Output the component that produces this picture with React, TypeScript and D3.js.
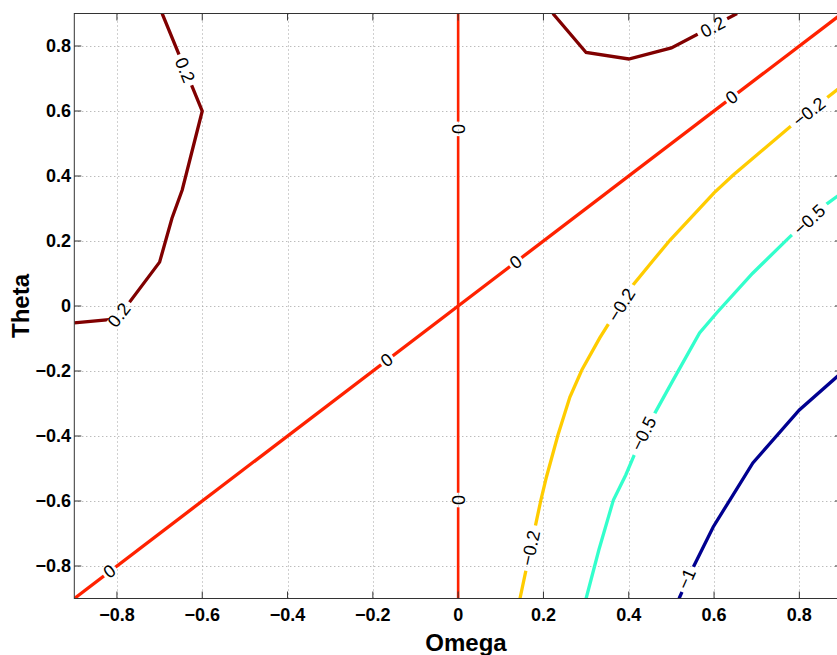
import React from "react";
import * as d3 from "d3";

const W = 837;
const H = 655;

const xTicks = [-0.8, -0.6, -0.4, -0.2, 0, 0.2, 0.4, 0.6, 0.8];
const yTicks = [-0.8, -0.6, -0.4, -0.2, 0, 0.2, 0.4, 0.6, 0.8];
const tickText = ["\u22120.8", "\u22120.6", "\u22120.4", "\u22120.2", "0", "0.2", "0.4", "0.6", "0.8"];

// contour levels and colours (jet)
const levels = [-1, -0.5, -0.2, 0, 0.2];
const levelColors = ["#000090", "#33ffcc", "#ffcc00", "#ff2200", "#800000"];

// contour paths [omega, theta]
const cNeg1: [number, number][] = [
  [0.518, -0.9], [0.548, -0.812], [0.598, -0.68], [0.637, -0.597], [0.691, -0.483],
  [0.8, -0.32], [0.888, -0.218], [0.9, -0.205],
];
const cNeg05: [number, number][] = [
  [0.3, -0.9], [0.33, -0.75], [0.364, -0.597], [0.393, -0.52], [0.415, -0.452],
  [0.459, -0.335], [0.504, -0.228], [0.566, -0.083], [0.607, -0.02], [0.69, 0.1],
  [0.777, 0.212], [0.855, 0.305], [0.9, 0.348],
];
const cNeg02: [number, number][] = [
  [0.145, -0.9], [0.17, -0.745], [0.194, -0.597], [0.207, -0.526], [0.234, -0.397],
  [0.262, -0.28], [0.29, -0.197], [0.332, -0.098], [0.41, 0.065], [0.457, 0.14],
  [0.497, 0.203], [0.6, 0.348], [0.645, 0.403], [0.777, 0.55], [0.864, 0.64], [0.9, 0.677],
];
const cZeroDiag: [number, number][] = [[-0.9, -0.9], [0.9, 0.9]];
const cZeroVert: [number, number][] = [[0, -0.9], [0, 0.9]];
const cPos02Left: [number, number][] = [
  [-0.9, -0.052], [-0.8, -0.04], [-0.7, 0.135], [-0.671, 0.27], [-0.647, 0.357],
  [-0.629, 0.45], [-0.6, 0.6], [-0.694, 0.9],
];
const cPos02Right: [number, number][] = [
  [0.222, 0.9], [0.3, 0.78], [0.4, 0.76], [0.5, 0.794], [0.654, 0.9],
];

const contours: { level: number; pts: [number, number][] }[] = [
  { level: 0.2, pts: cPos02Left },
  { level: 0.2, pts: cPos02Right },
  { level: 0, pts: cZeroDiag },
  { level: 0, pts: cZeroVert },
  { level: -0.2, pts: cNeg02 },
  { level: -0.5, pts: cNeg05 },
  { level: -1, pts: cNeg1 },
];

// labels: text, omega, theta, contour index
const labelText = ["0.2", "0.2", "0.2", "0", "0", "0", "0", "0", "0", "\u22120.2", "\u22120.2", "\u22120.2", "\u22120.5", "\u22120.5", "\u22121"];
const labelOmega = [-0.641, -0.795, 0.597, -0.817, -0.167, 0.135, 0.642, 0, 0, 0.17, 0.383, 0.823, 0.435, 0.824, 0.536];
const labelTheta = [0.726, -0.028, 0.858, -0.817, -0.167, 0.135, 0.642, 0.545, -0.597, -0.745, 0.003, 0.597, -0.393, 0.265, -0.84];
const labelContour = [0, 0, 1, 2, 2, 2, 2, 3, 3, 4, 4, 4, 5, 5, 6];

const x = d3.scaleLinear().domain([-0.9, 0.9]).range([74.3, 842]);
const y = d3.scaleLinear().domain([-0.9, 0.9]).range([598.5, 13.5]);

const LABEL_FS = 18;
const charW = (s: string) => {
  let w = 0;
  for (const c of s) w += c === "." ? 0.278 : c === "\u2212" ? 0.584 : 0.556;
  return w * LABEL_FS;
};

function labelAngle(pts: [number, number][], lx: number, ly: number) {
  let best = Infinity;
  let ang = 0;
  for (let i = 0; i < pts.length - 1; i++) {
    const ax = x(pts[i][0]), ay = y(pts[i][1]);
    const bx = x(pts[i + 1][0]), by = y(pts[i + 1][1]);
    const dx = bx - ax, dy = by - ay;
    const L2 = dx * dx + dy * dy;
    let t = ((lx - ax) * dx + (ly - ay) * dy) / L2;
    t = Math.max(0, Math.min(1, t));
    const px = ax + t * dx, py = ay + t * dy;
    const d = (px - lx) ** 2 + (py - ly) ** 2;
    if (d < best) {
      best = d;
      ang = (Math.atan2(dy, dx) * 180) / Math.PI;
    }
  }
  if (ang > 90) ang -= 180;
  if (ang <= -90) ang += 180;
  return ang;
}

export default function App() {
  const line = d3.line<[number, number]>().x((d) => x(d[0])).y((d) => y(d[1]));
  const color = d3.scaleOrdinal<number, string>().domain(levels).range(levelColors);
  const [x0, x1] = x.range();
  const yTop = y(0.9), yBot = y(-0.9);

  const labels = labelText.map((t, i) => {
    const lx = x(labelOmega[i]);
    const ly = y(labelTheta[i]);
    const a = labelAngle(contours[labelContour[i]].pts, lx, ly);
    return { t, lx, ly, a, gap: charW(t) * 1.25 + 2 };
  });

  const font = "'Liberation Sans', Arial, Helvetica, sans-serif";

  return (
    <svg width={W} height={H} style={{ position: "absolute", left: 0, top: 0, background: "#fff" }}>
      <defs>
        <clipPath id="plotclip">
          <rect x={x0} y={yTop} width={x1 - x0} height={yBot - yTop} />
        </clipPath>
        <mask id="gapmask" maskUnits="userSpaceOnUse" x={0} y={0} width={W} height={H}>
          <rect x={0} y={0} width={W} height={H} fill="#fff" />
          {labels.map((l, i) => (
            <rect key={i} x={-l.gap / 2} y={-6} width={l.gap} height={12} fill="#000"
              transform={`translate(${l.lx},${l.ly}) rotate(${l.a})`} />
          ))}
        </mask>
      </defs>
      <rect x={0} y={0} width={W} height={H} fill="#fff" />
      {/* grid */}
      <g stroke="#a0a0a0" strokeWidth={1} strokeDasharray="1,3">
        {xTicks.map((t, i) => (
          <line key={"gx" + i} x1={Math.round(x(t)) + 0.5} x2={Math.round(x(t)) + 0.5} y1={yTop} y2={yBot} />
        ))}
        {yTicks.map((t, i) => (
          <line key={"gy" + i} x1={x0} x2={x1} y1={Math.round(y(t)) + 0.5} y2={Math.round(y(t)) + 0.5} />
        ))}
      </g>
      {/* contours */}
      <g clipPath="url(#plotclip)">
        <g mask="url(#gapmask)" fill="none" strokeLinejoin="miter">
          {contours.map((c, i) => (
            <path key={i} d={line(c.pts) || ""} stroke={color(c.level)} strokeWidth={c.pts === cZeroVert ? 2.6 : 3.3} />
          ))}
        </g>
        {labels.map((l, i) => (
          <text key={i} transform={`translate(${l.lx},${l.ly}) rotate(${l.a})`} textAnchor="middle"
            dominantBaseline="central" fontFamily={font} fontSize={LABEL_FS} fill="#000">
            {l.t}
          </text>
        ))}
      </g>
      {/* axes box */}
      <g stroke="#333" strokeWidth={1} fill="none">
        <rect x={x0} y={yTop} width={x1 - x0} height={yBot - yTop} />
        {xTicks.map((t, i) => (
          <g key={"tx" + i}>
            <line x1={x(t)} x2={x(t)} y1={yBot} y2={yBot - 7} />
            <line x1={x(t)} x2={x(t)} y1={yTop} y2={yTop + 7} />
          </g>
        ))}
        {yTicks.map((t, i) => (
          <g key={"ty" + i}>
            <line x1={x0} x2={x0 + 7} y1={y(t)} y2={y(t)} />
            <line x1={x1} x2={x1 - 7} y1={y(t)} y2={y(t)} />
          </g>
        ))}
      </g>
      {/* tick labels */}
      <g fontFamily={font} fontWeight="bold" fontSize={18} fill="#000">
        {xTicks.map((t, i) => (
          <text key={"lx" + i} x={x(t)} y={620.5} textAnchor="middle">{tickText[i]}</text>
        ))}
        {yTicks.map((t, i) => (
          <text key={"ly" + i} x={71} y={y(t)} textAnchor="end" dominantBaseline="central">{tickText[i]}</text>
        ))}
        <text x={466} y={651} textAnchor="middle" fontSize={24}>Omega</text>
        <text transform={`translate(29,306) rotate(-90)`} textAnchor="middle" fontSize={24}>Theta</text>
      </g>
    </svg>
  );
}
